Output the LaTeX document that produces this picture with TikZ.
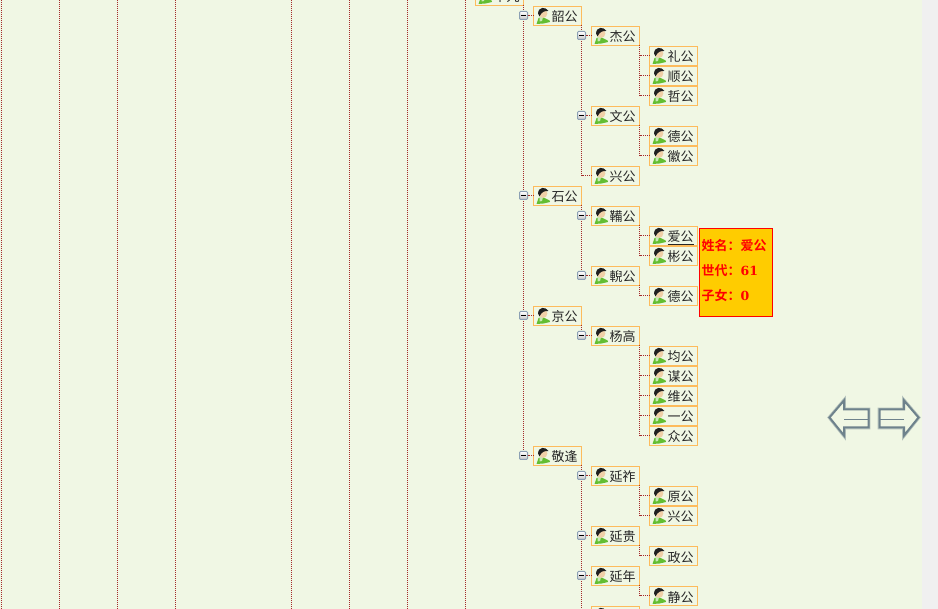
\documentclass[tikz,border=0pt]{standalone}
\usepackage{fontspec}
\setmainfont{Noto Sans CJK SC}
\newfontfamily\tipfont{Noto Sans CJK SC}[BoldFont={Noto Sans CJK SC Bold}]
\newfontfamily\tipdigits{DejaVu Serif}[BoldFont={DejaVu Serif Bold}]
\usetikzlibrary{calc}
\definecolor{pagebg}{HTML}{F0F7E4}
\definecolor{boxedge}{HTML}{FDBB5C}
\definecolor{dotline}{HTML}{A52A2A}
\definecolor{arrowedge}{HTML}{6E828C}
\definecolor{exedge}{HTML}{8CA0B4}
\definecolor{tipfill}{HTML}{FFCC00}
\definecolor{shirt}{HTML}{63BE32}
\definecolor{skin}{HTML}{F0D0A8}
\tikzset{
  x=1pt,y=-1pt,
  person/.style={draw=boxedge,line width=1pt,fill=pagebg,minimum width=48pt,minimum height=19pt,inner sep=0pt,outer sep=0pt,text=black!85,font=\fontsize{13}{14}\selectfont,anchor=west,text width=48pt,text height=9pt,text depth=3pt,align=left},
  dotted link/.style={draw=dotline,line width=1pt,dash pattern=on 1pt off 1pt,dash phase=0.5pt},
  column line/.style={draw=dotline,line width=1pt,dash pattern=on 1pt off 1pt},
  flat link/.style={dotted link,yshift=0.5pt},
  expander/.style={draw=exedge,top color=white,bottom color=black!22,line width=1pt,minimum size=8pt,inner sep=0pt,outer sep=0pt,rounded corners=1pt},
  navarrow/.style={draw=arrowedge,line width=2pt,fill=pagebg,line join=miter},
  navglow/.style={draw=arrowedge,line width=3.6pt,opacity=0.45,line join=miter},
  tip/.style={font=\tipfont\bfseries\fontsize{13}{14}\selectfont,text=red,anchor=west,inner sep=0pt}
}
% person node: name, x (left), y (centre), text
\newcommand{\pnode}[4]{%
  \node[person] (#1) at (#2,#3) {\hspace{18pt}\raisebox{-3pt}{#4}};
  \fill[shirt] ($(#2,#3)+(3,8)$) -- ($(#2,#3)+(5,2)$) -- ($(#2,#3)+(9,1)$) -- ($(#2,#3)+(16,4.5)$) -- ($(#2,#3)+(16.5,6)$) -- ($(#2,#3)+(10,7.5)$) -- cycle;
  \fill[white,opacity=0.65] ($(#2,#3)+(6,1.5)$) -- ($(#2,#3)+(9.5,1)$) -- ($(#2,#3)+(8.5,5)$) -- ($(#2,#3)+(6,5.5)$) -- cycle;
  \fill[skin] ($(#2,#3)+(9.5,-2.5)$) circle[radius=4.4];
  \fill[black!88] ($(#2,#3)+(4.5,-2.5)$) .. controls ($(#2,#3)+(5,-9.5)$) and ($(#2,#3)+(12,-9.5)$) .. ($(#2,#3)+(15,-5)$) .. controls ($(#2,#3)+(11,-5.5)$) and ($(#2,#3)+(8,-4)$) .. ($(#2,#3)+(6,0.5)$) -- cycle;
}
% expander box with minus
\newcommand{\exnode}[3]{%
  \node[expander] (#1) at (#2,#3) {};
  \draw[black,line width=1.2pt] (#1.center) ++(-2.5,0) -- ++(5,0);
}
% vertical rail from node A's lower right corner to the row of node B
\newcommand{\vrail}[2]{\draw[dotted link] (#1.south east) -- (#1.east|-#2);}
% horizontal branch from the right edge of parent A to child B
\newcommand{\hbranch}[2]{\draw[flat link] (#1.east|-#2) -- (#2.west);}
\begin{document}
\begin{tikzpicture}
\useasboundingbox (0,0) rectangle (938,609);
\fill[pagebg] (0,0) rectangle (938,609);
\fill[black!6] (922,0) rectangle (938,609);
\begin{scope}
\clip (0,0) rectangle (938,609);
% column guide lines
\foreach \cx/\cn in {1.5/a,59.5/b,117.5/c,175.5/d,291.5/e,349.5/f,407.5/g,465.5/h}{
  \coordinate (top\cn) at (\cx,0);
  \coordinate (bot\cn) at (\cx,609);
  \draw[column line] (top\cn) -- (bot\cn);
}
% nodes
\pnode{root}{475.5}{-4}{十九}
\pnode{s1}{533.5}{16}{韶公}
\pnode{s11}{591.5}{36}{杰公}
\pnode{s111}{649.5}{56}{礼公}
\pnode{s112}{649.5}{76}{顺公}
\pnode{s113}{649.5}{96}{哲公}
\pnode{s12}{591.5}{116}{文公}
\pnode{s121}{649.5}{136}{德公}
\pnode{s122}{649.5}{156}{徽公}
\pnode{s13}{591.5}{176}{兴公}
\pnode{s2}{533.5}{196}{石公}
\pnode{s21}{591.5}{216}{鞴公}
\pnode{s211}{649.5}{236}{\underline{爱公}}
\pnode{s212}{649.5}{256}{彬公}
\pnode{s22}{591.5}{276}{輗公}
\pnode{s221}{649.5}{296}{德公}
\pnode{s3}{533.5}{316}{京公}
\pnode{s31}{591.5}{336}{杨高}
\pnode{s311}{649.5}{356}{均公}
\pnode{s312}{649.5}{376}{谋公}
\pnode{s313}{649.5}{396}{维公}
\pnode{s314}{649.5}{416}{一公}
\pnode{s315}{649.5}{436}{众公}
\pnode{s4}{533.5}{456}{敬逢}
\pnode{s41}{591.5}{476}{延祚}
\pnode{s411}{649.5}{496}{原公}
\pnode{s412}{649.5}{516}{兴公}
\pnode{s42}{591.5}{536}{延贵}
\pnode{s421}{649.5}{556}{政公}
\pnode{s43}{591.5}{576}{延年}
\pnode{s431}{649.5}{596}{静公}
\pnode{s44}{591.5}{616}{}
% rails
\vrail{root}{s4}
\vrail{s1}{s13}
\vrail{s2}{s22}
\vrail{s3}{s31}
\vrail{s4}{s44}
\hbranch{s1}{s13}
\vrail{s11}{s113}
\foreach \n in {s111,s112,s113}{\hbranch{s11}{\n}}
\vrail{s12}{s122}
\foreach \n in {s121,s122}{\hbranch{s12}{\n}}
\vrail{s21}{s212}
\foreach \n in {s211,s212}{\hbranch{s21}{\n}}
\vrail{s22}{s221}
\hbranch{s22}{s221}
\vrail{s31}{s315}
\foreach \n in {s311,s312,s313,s314,s315}{\hbranch{s31}{\n}}
\vrail{s41}{s412}
\foreach \n in {s411,s412}{\hbranch{s41}{\n}}
\vrail{s42}{s421}
\hbranch{s42}{s421}
\vrail{s43}{s431}
\hbranch{s43}{s431}
% expanders
\foreach \n/\ex/\ey in {s1/523.5/15.5,s2/523.5/195.5,s3/523.5/315.5,s4/523.5/455.5,s11/581.5/35.5,s12/581.5/115.5,s21/581.5/215.5,s22/581.5/275.5,s31/581.5/335.5,s41/581.5/475.5,s42/581.5/535.5,s43/581.5/575.5}{
  \exnode{x\n}{\ex}{\ey}
  \draw[dotted link] (x\n.east) -- (x\n.east-|\n.west);
}
\end{scope}
% tooltip
\node[draw=red,line width=1pt,fill=tipfill,minimum width=73pt,minimum height=88pt,anchor=north west,inner sep=0pt,outer sep=0pt] (tipbox) at (699.5,228.5) {};
\node[tip] (tip1) at (701.5,246) {姓名：爱公};
\node[tip] (tip2) at (701.5,271) {世代：{\tipdigits\bfseries\fontsize{12.5}{14}\selectfont 61}};
\node[tip] (tip3) at (701.5,296) {子女：{\tipdigits\bfseries\fontsize{12.5}{14}\selectfont 0}};
% navigation arrows
\foreach \s in {navglow,navarrow}{
  \draw[\s] (829.5,417.5) -- (844,400.5) -- (844,409.5) -- (868.5,409.5) -- (868.5,427.5) -- (844,427.5) -- (844,435.5) -- cycle;
  \draw[\s] (918.5,417.5) -- (904,400.5) -- (904,409.5) -- (879.5,409.5) -- (879.5,427.5) -- (904,427.5) -- (904,435.5) -- cycle;
}
\draw[arrowedge,line width=0.8pt] (844,419) -- (868.5,419);
\draw[arrowedge,line width=0.8pt] (904,419) -- (879.5,419);
\end{tikzpicture}
\end{document}
